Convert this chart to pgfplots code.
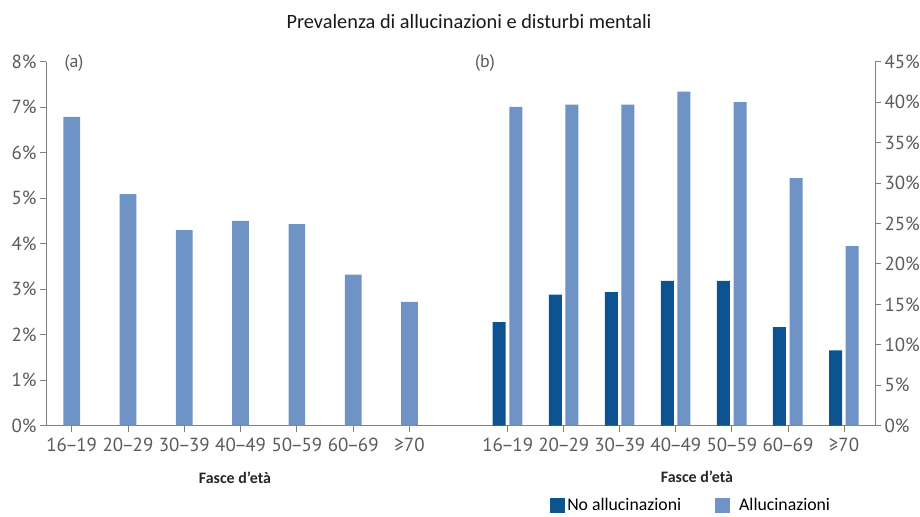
\documentclass[border=0pt]{standalone}
\usepackage{pgfplots}
\pgfplotsset{compat=1.18}
\usepackage{fontspec}
\setmainfont{PT Sans}
\newfontfamily\calibri{Carlito}
\definecolor{darkblue}{RGB}{12,84,145}
\definecolor{lightblue}{RGB}{110,147,196}
\definecolor{axisgray}{RGB}{128,128,128}
\definecolor{labelgray}{RGB}{90,90,90}
\newcommand{\rng}[2]{#1\kern-1.5bp–\kern-1.5bp#2}

\begin{document}
\begin{tikzpicture}
\path[use as bounding box] (0,0) rectangle (920bp,517bp);
\pgfplotsset{
  panel/.style={
    scale only axis, height=364bp,
    ymin=0,
    axis x line*=bottom,
    axis line style={axisgray, line width=0.9bp},
    every tick/.style={axisgray, line width=0.9bp},
    tick align=outside, major tick length=6bp,
    xtick={0,...,6},
    xticklabels={\rng{16}{19},\rng{20}{29},\rng{30}{39},\rng{40}{49},\rng{50}{59},\rng{60}{69},≥70},
    tick label style={font=\fontsize{19}{19}\selectfont, text=labelgray},
    xticklabel style={yshift=-3bp},
    ybar,
    enlarge x limits=false,
    clip=false,
  }
}
% (a) overall prevalence of hallucinations by age band
\begin{axis}[panel, at={(46bp,91.3bp)}, anchor=south west, width=414bp,
  xmin=-0.456, xmax=6.897, ymax=8, axis y line*=left,
  ytick={0,...,8},
  yticklabels={0\%,1\%,2\%,3\%,4\%,5\%,6\%,7\%,8\%}]
\addplot[fill=lightblue, draw=none, bar width=16.7bp]
  coordinates {(0,6.79) (1,5.09) (2,4.30) (3,4.50) (4,4.43) (5,3.32) (6,2.72)};
\end{axis}
% (b) mental disorders with and without hallucinations
\begin{axis}[panel, at={(460bp,91.3bp)}, anchor=south west, width=415bp,
  xmin=-0.851, xmax=6.553, ymax=45, axis y line*=right,
  ytick={0,5,...,45},
  yticklabels={0\%,5\%,10\%,15\%,20\%,25\%,30\%,35\%,40\%,45\%},
  legend style={at={(0.217,-0.219)}, anchor=west, draw=none, fill=none,
    inner sep=0pt, legend columns=2,
    font=\calibri\fontsize{17.8}{17.8}\selectfont,
    /tikz/every even column/.append style={column sep=32bp}},
  legend image code/.code={\fill[#1] (0bp,-7.5bp) rectangle (15bp,7.5bp);}]
\addplot[fill=darkblue, draw=none, bar width=13bp, bar shift=-8.5bp]
  coordinates {(0,12.8) (1,16.2) (2,16.5) (3,17.9) (4,17.9) (5,12.2) (6,9.3)};
\addlegendentry{No allucinazioni}
\addplot[fill=lightblue, draw=none, bar width=13bp, bar shift=8.1bp]
  coordinates {(0,39.4) (1,39.7) (2,39.7) (3,41.3) (4,40.0) (5,30.6) (6,22.2)};
\addlegendentry{\hspace{7bp}Allucinazioni}
\end{axis}
\node[font=\calibri\fontsize{20.4}{20.4}\selectfont, text=black!90] at (469bp,495bp)
  {Prevalenza di allucinazioni e disturbi mentali};
\node[font=\fontsize{18}{18}\selectfont, text=labelgray] at (74bp,454bp) {(a)};
\node[font=\fontsize{18}{18}\selectfont, text=labelgray] at (485bp,454bp) {(b)};
\node[font=\calibri\bfseries\fontsize{16}{16}\selectfont, text=black!85] at (235bp,39bp) {Fasce d’età};
\node[font=\calibri\bfseries\fontsize{16}{16}\selectfont, text=black!85] at (697bp,40bp) {Fasce d’età};
\end{tikzpicture}
\end{document}
